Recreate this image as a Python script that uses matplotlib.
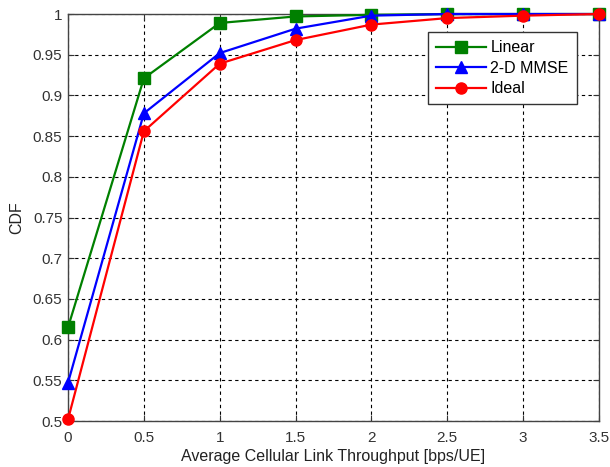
import matplotlib
matplotlib.use("Agg")
import matplotlib.pyplot as plt

plt.rcParams['font.family'] = ['Liberation Sans', 'DejaVu Sans']

x = [0, 0.5, 1, 1.5, 2, 2.5, 3, 3.5]
linear = [0.615, 0.921, 0.989, 0.997, 0.999, 1.0, 1.0, 1.0]
mmse = [0.547, 0.878, 0.952, 0.982, 0.998, 1.0, 1.0, 1.0]
ideal = [0.502, 0.856, 0.939, 0.968, 0.987, 0.995, 0.998, 1.0]
xticks = [0, 0.5, 1, 1.5, 2, 2.5, 3, 3.5]
yticks = [0.5, 0.55, 0.6, 0.65, 0.7, 0.75, 0.8, 0.85, 0.9, 0.95, 1.0]

fig = plt.figure(figsize=(6.1, 4.67), dpi=100)
ax = fig.add_axes([0.1115, 0.0985, 0.8705, 0.8715])
ax.plot(x, linear, color=(0, 0.5, 0), lw=1.6, marker='s', ms=8, label='Linear', clip_on=False, zorder=3)
ax.plot(x, mmse, color=(0, 0, 1), lw=1.6, marker='^', ms=9, label='2-D MMSE', clip_on=False, zorder=3)
ax.plot(x, ideal, color=(1, 0, 0), lw=1.6, marker='o', ms=8, label='Ideal', clip_on=False, zorder=3)
ax.set_xlim(0, 3.5)
ax.set_ylim(0.5, 1.0)
ax.set_xticks(xticks)
ax.set_xticklabels([f"{v:g}" for v in xticks])
ax.set_yticks(yticks)
ax.set_yticklabels([f"{v:g}" for v in yticks])
ax.grid(True, color='black', linestyle=(0, (3, 3)), linewidth=0.8)
ax.tick_params(direction='in', labelsize=11, colors='#333333', top=True, right=True, length=4)
ax.tick_params(axis='x', pad=7)
ax.tick_params(axis='y', pad=4)
for s in ax.spines.values():
    s.set_color('#444444')
    s.set_linewidth(1.0)
ax.set_xlabel('Average Cellular Link Throughput [bps/UE]', fontsize=11.5, color='#222222', labelpad=3)
ax.set_ylabel('CDF', fontsize=11.5, color='#222222', labelpad=6)
leg = ax.legend(loc='upper right', bbox_to_anchor=(0.958, 0.955), fontsize=11.5, fancybox=False,
                edgecolor='#333333', framealpha=1, borderpad=0.5, handlelength=3.1,
                handletextpad=0.3, labelspacing=0.35, borderaxespad=0)
leg.get_frame().set_linewidth(1.0)
fig.savefig('out.png', dpi=100)
